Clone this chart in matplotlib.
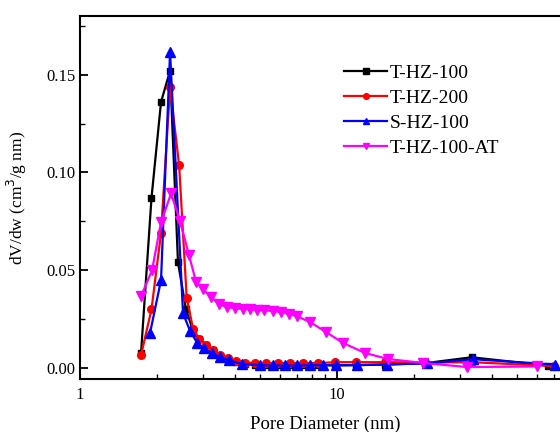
import matplotlib
matplotlib.use("Agg")
import matplotlib.pyplot as plt
from matplotlib.ticker import MultipleLocator, LogLocator, NullFormatter, FixedLocator

plt.rcParams['font.family'] = ['Liberation Serif', 'DejaVu Serif']

# T-HZ-100 (black squares)
x_t100 = [1.727, 1.897, 2.066, 2.240, 2.405, 2.584, 2.753, 2.904, 3.093, 3.294,
          3.508, 3.768, 4.047, 4.387, 4.799, 5.30, 5.90, 6.57, 7.39, 8.45,
          9.85, 11.88, 15.4, 22.0, 33.4, 66.3]
y_t100 = [0.0075, 0.087, 0.136, 0.152, 0.054, 0.030, 0.019, 0.015, 0.012, 0.009,
          0.006, 0.0045, 0.003, 0.0022, 0.0018, 0.0016, 0.0015, 0.0014, 0.0014, 0.0014,
          0.0015, 0.0015, 0.0018, 0.0025, 0.0055, 0.0012]

# T-HZ-200 (red circles)
x_t200 = [1.727, 1.897, 2.066, 2.240, 2.430, 2.60, 2.753, 2.904, 3.093, 3.294,
          3.508, 3.768, 4.047, 4.387, 4.799, 5.30, 5.90, 6.57, 7.39, 8.45,
          9.85, 11.88, 15.4, 22.0, 33.4, 70.0]
y_t200 = [0.0066, 0.030, 0.069, 0.1435, 0.1036, 0.036, 0.020, 0.015, 0.012, 0.009,
          0.0065, 0.005, 0.0035, 0.0028, 0.0025, 0.0025, 0.0025, 0.0025, 0.0025, 0.0025,
          0.003, 0.003, 0.003, 0.0028, 0.003, 0.001]

# S-HZ-100 (blue triangles)
x_s100 = [1.873, 2.066, 2.240, 2.516, 2.679, 2.853, 3.038, 3.263, 3.508, 3.80,
          4.27, 5.02, 5.64, 6.28, 6.99, 7.85, 8.82, 9.91, 11.96, 15.65,
          22.4, 33.8, 70.5]
y_s100 = [0.018, 0.045, 0.1614, 0.028, 0.019, 0.013, 0.010, 0.0075, 0.0055, 0.004,
          0.002, 0.0015, 0.0013, 0.0013, 0.0013, 0.0015, 0.0015, 0.0013, 0.0015, 0.0018,
          0.0024, 0.0045, 0.0018]

# T-HZ-100-AT (magenta down triangles)
x_at = [1.727, 1.906, 2.066, 2.261, 2.449, 2.656, 2.828, 3.010, 3.234, 3.474,
        3.733, 4.010, 4.308, 4.586, 4.884, 5.200, 5.636, 6.056, 6.506, 6.989,
        7.852, 9.061, 10.55, 12.85, 15.79, 21.61, 32.05, 60.0]
y_at = [0.0367, 0.0500, 0.0745, 0.0893, 0.0750, 0.0577, 0.0439, 0.0403, 0.0362, 0.0327,
        0.0311, 0.0306, 0.0301, 0.0301, 0.0296, 0.0296, 0.0291, 0.0286, 0.0276, 0.0265,
        0.0235, 0.0184, 0.0128, 0.0077, 0.0046, 0.0026, 0.0005, 0.0008]

fig = plt.figure(figsize=(5.6, 4.32), dpi=100)
ax = fig.add_axes([0.1429, 0.1227, 0.918, 0.8403])

lw = 1.6
ax.plot(x_t100, y_t100, color='black', marker='s', ms=5, lw=lw, label='T-HZ-100')
ax.plot(x_t200, y_t200, color='#ff0000', marker='o', ms=5.5, lw=lw, label='T-HZ-200')
ax.plot(x_s100, y_s100, color='#0000ff', marker='^', ms=6.5, lw=lw, label='S-HZ-100')
ax.plot(x_at, y_at, color='#ff00ff', marker='v', ms=6.5, lw=lw, label='T-HZ-100-AT')

ax.set_xscale('log')
ax.set_xlim(1, 100)
ax.set_ylim(-0.0056, 0.18)

ax.yaxis.set_major_locator(FixedLocator([0.0, 0.05, 0.10, 0.15]))
ax.yaxis.set_minor_locator(MultipleLocator(0.025))
ax.set_yticklabels(['0.00', '0.05', '0.10', '0.15'])
ax.xaxis.set_major_locator(LogLocator(base=10))
ax.xaxis.set_minor_locator(LogLocator(base=10, subs=range(2, 10)))
ax.xaxis.set_minor_formatter(NullFormatter())
ax.set_xticks([1, 10])
ax.set_xticklabels(['1', '10'])

ax.tick_params(which='both', direction='in', labelsize=12)
ax.tick_params(axis='x', pad=6)
ax.tick_params(which='major', length=6, width=1.3)
ax.tick_params(which='minor', length=3.5, width=1.0)
for s in ax.spines.values():
    s.set_linewidth(1.5)

ax.set_xlabel('Pore Diameter (nm)', fontsize=13.5, labelpad=9)
ax.xaxis.set_label_coords(0.477, -0.1)
ax.set_ylabel('dV/dw (cm$^3$/g nm)', fontsize=12.5, labelpad=12)

ax.legend(loc='upper left', bbox_to_anchor=(0.48, 0.915), frameon=False,
          fontsize=14, handlelength=2.2, handletextpad=0.15, labelspacing=0.38,
          markerscale=0.75)

fig.savefig('out.png', dpi=100)
